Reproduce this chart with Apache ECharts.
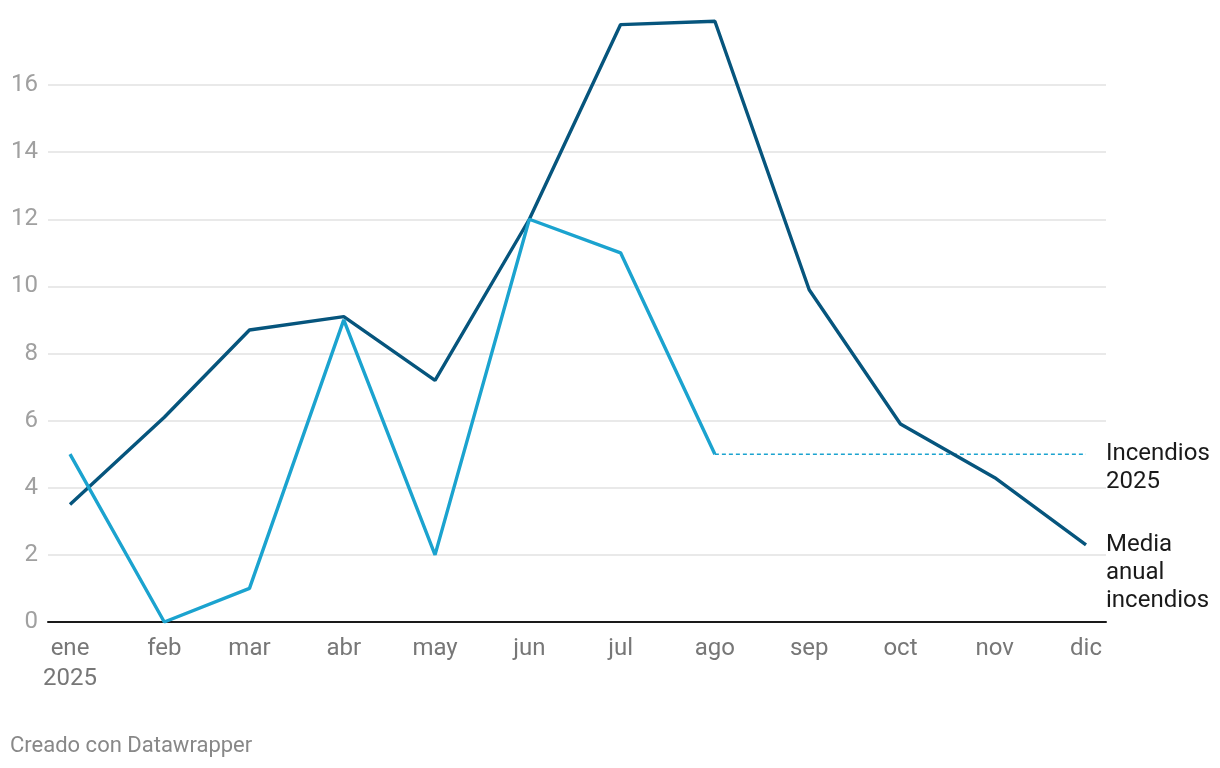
<!DOCTYPE html>
<html>
<head>
<meta charset="utf-8">
<script src="https://cdn.jsdelivr.net/npm/echarts@6/dist/echarts.min.js"></script>
<style>
html,body{margin:0;padding:0;background:#fff;}
#c{width:1220px;height:768px;}
</style>
</head>
<body>
<div id="c"></div>
<script>
var monthDates = ['2025-01-01','2025-02-01','2025-03-01','2025-04-01','2025-05-01','2025-06-01',
                  '2025-07-01','2025-08-01','2025-09-01','2025-10-01','2025-11-01','2025-12-01'];
var monthLabels = ['ene\n2025','feb','mar','abr','may','jun','jul','ago','sep','oct','nov','dic'];
var mediaAnual = [3.5, 6.1, 8.7, 9.1, 7.2, 12.0, 17.8, 17.9, 9.9, 5.9, 4.3, 2.3];
var incendios2025 = [5, 0, 1, 9, 2, 12, 11, 5];
var yTicks = [0, 2, 4, 6, 8, 10, 12, 14, 16];

var DAY = 86400000;
var t0 = Date.parse(monthDates[0] + 'T00:00:00Z');
var xDays = monthDates.map(function(d){ return (Date.parse(d + 'T00:00:00Z') - t0) / DAY; });
var labelByDay = {};
xDays.forEach(function(x, i){ labelByDay[x] = monthLabels[i]; });

var lastIdx = incendios2025.length - 1;
var lastVal = incendios2025[lastIdx];
var mediaData = mediaAnual.map(function(v, i){ return [xDays[i], v]; });
var incData = incendios2025.map(function(v, i){ return [xDays[i], v]; });
var projData = xDays.slice(lastIdx).map(function(x){ return [x, lastVal]; });

var FONT = 'Roboto';
var chart = echarts.init(document.getElementById('c'), null, {renderer:'canvas'});
chart.setOption({
  animation: false,
  textStyle: {fontFamily: FONT},
  grid: [
    {left: 48, right: 114, top: 85, bottom: 146},
    {left: 70, right: 134, top: 17.875, bottom: 146}
  ],
  xAxis: [
    {gridIndex: 0, type: 'value', min: 0, max: 1, show: true,
     axisLine: {show: true, onZero: true, lineStyle: {color: '#1a1a1a', width: 2}},
     axisTick: {show: false}, axisLabel: {show: false}, splitLine: {show: false}},
    {gridIndex: 1, type: 'value', min: xDays[0], max: xDays[xDays.length-1],
     axisLine: {show: false}, axisTick: {show: false}, splitLine: {show: false},
     axisLabel: {color: '#777', fontSize: 24, margin: 12, lineHeight: 30, fontFamily: FONT,
       customValues: xDays, showMinLabel: true, showMaxLabel: true,
       formatter: function(v){ return labelByDay[Math.round(v)] || ''; }}}
  ],
  yAxis: [
    {gridIndex: 0, type: 'value', min: yTicks[0], max: yTicks[yTicks.length-1], interval: 2,
     axisLine: {show: false}, axisTick: {show: false},
     axisLabel: {color: '#a0a0a0', fontSize: 24, margin: 10, fontFamily: FONT},
     splitLine: {lineStyle: {color: '#e2e2e2', width: 1.5}}},
    {gridIndex: 1, type: 'value', min: 0, max: 18, show: false,
     splitLine: {show: false}}
  ],
  series: [
    {name: 'Media anual incendios', type: 'line', xAxisIndex: 1, yAxisIndex: 1,
     data: mediaData, symbol: 'none', z: 3,
     lineStyle: {color: '#06557d', width: 3.4},
     endLabel: {show: true, formatter: 'Media\nanual\nincendios', color: '#1a1a1a',
       fontSize: 24, lineHeight: 28, fontFamily: FONT, distance: 20, align: 'left',
       verticalAlign: 'top', offset: [0, -14]}},
    {name: 'Incendios 2025', type: 'line', xAxisIndex: 1, yAxisIndex: 1,
     data: incData, symbol: 'none', z: 4,
     lineStyle: {color: '#1ba3cf', width: 3.4}},
    {name: 'Incendios 2025 proy', type: 'line', xAxisIndex: 1, yAxisIndex: 1,
     data: projData, symbol: 'none', z: 2,
     lineStyle: {color: '#1ba3cf', width: 1.6, type: [4, 3]},
     endLabel: {show: true, formatter: 'Incendios\n2025', color: '#1a1a1a',
       fontSize: 24, lineHeight: 28, fontFamily: FONT, distance: 20, align: 'left',
       verticalAlign: 'top', offset: [0, -14]}}
  ],
  graphic: [
    {type: 'text', left: 10, top: 735,
     style: {text: 'Creado con Datawrapper', fill: '#888', fontSize: 22, fontFamily: FONT}}
  ]
});
</script>
</body>
</html>
